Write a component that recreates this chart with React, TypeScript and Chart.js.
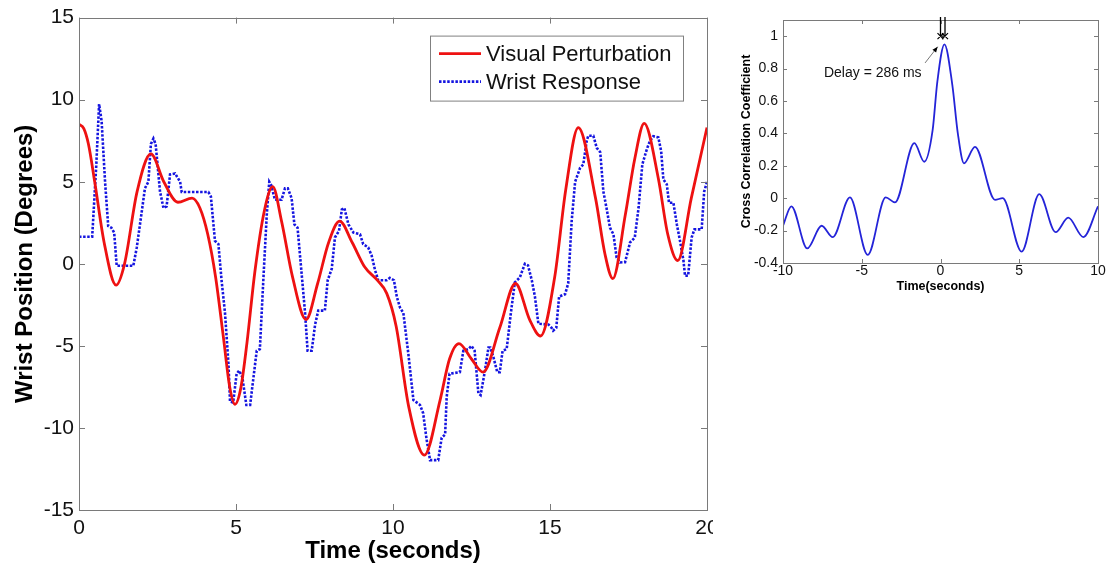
import React, { useEffect, useRef } from 'react';
import { Chart, registerables } from 'chart.js';
Chart.register(...registerables);

const FONT = '"Liberation Sans", Arial, Helvetica, sans-serif';

// ---------- main chart data ----------
const X_TICKS = [0, 5, 10, 15, 20];
const Y_TICKS = [-15, -10, -5, 0, 5, 10, 15];

const VP_LABEL = 'Visual Perturbation';
const VP_T = [0, 0.15, 0.3, 0.5, 0.8, 1.18, 1.45, 1.85, 2.29, 2.7, 3.15, 3.6, 3.85, 4.1, 4.35, 4.6, 4.8, 4.97, 5.15, 5.35, 5.6, 5.9, 6.17, 6.45, 6.8, 7.23, 7.6, 7.95, 8.3, 8.7, 9.1, 9.5, 9.8, 10.1, 10.5, 11.0, 11.5, 11.8, 12.1, 12.5, 12.87, 13.4, 13.9, 14.35, 14.7, 15.15, 15.5, 15.9, 16.45, 16.75, 17.0, 17.4, 17.7, 18.0, 18.45, 18.75, 19.07, 19.5, 20];
const VP_V = [8.5, 8.25, 7.3, 5.0, 1.3, -1.3, 0.0, 4.4, 6.7, 5.0, 3.75, 4.0, 3.4, 1.8, -0.8, -4.5, -7.5, -8.56, -7.6, -4.8, -0.5, 3.2, 4.7, 2.6, -0.8, -3.4, -1.2, 1.3, 2.6, 1.3, -0.2, -1.0, -1.8, -3.8, -8.7, -11.66, -8.3, -5.8, -4.86, -5.8, -6.6, -3.9, -1.2, -3.4, -4.4, -0.8, 4.5, 8.3, 4.0, 0.6, -0.9, 3.0, 6.4, 8.56, 5.2, 1.8, 0.2, 4.0, 8.3];

const WR_LABEL = 'Wrist Response';
const WR_T = [0, 0.42, 0.55, 0.64, 0.72, 0.83, 0.93, 1.03, 1.12, 1.2, 1.73, 1.84, 2.0, 2.1, 2.21, 2.29, 2.37, 2.44, 2.58, 2.69, 2.79, 2.9, 3.06, 3.22, 3.27, 4.12, 4.2, 4.33, 4.44, 4.54, 4.65, 4.76, 4.81, 4.91, 5.02, 5.1, 5.2, 5.33, 5.45, 5.66, 5.76, 5.87, 5.98, 6.06, 6.12, 6.24, 6.45, 6.56, 6.65, 6.77, 6.86, 6.96, 7.09, 7.2, 7.28, 7.41, 7.52, 7.62, 7.83, 7.92, 8.05, 8.15, 8.28, 8.37, 8.45, 8.58, 8.74, 8.95, 9.05, 9.21, 9.32, 9.43, 9.53, 9.8, 9.9, 10.03, 10.12, 10.22, 10.33, 10.49, 10.65, 10.86, 10.96, 11.07, 11.18, 11.44, 11.55, 11.66, 11.71, 11.8, 12.13, 12.24, 12.4, 12.5, 12.6, 12.72, 12.79, 12.93, 13.04, 13.1, 13.2, 13.32, 13.4, 13.49, 13.62, 13.75, 13.88, 14.04, 14.2, 14.3, 14.42, 14.52, 14.63, 14.95, 15.05, 15.1, 15.2, 15.29, 15.48, 15.58, 15.69, 15.8, 15.96, 16.06, 16.17, 16.22, 16.38, 16.49, 16.6, 16.7, 16.8, 16.91, 17.02, 17.12, 17.23, 17.39, 17.55, 17.7, 17.82, 17.94, 18.08, 18.18, 18.29, 18.45, 18.54, 18.61, 18.72, 18.79, 18.93, 19.04, 19.14, 19.25, 19.3, 19.4, 19.51, 19.6, 19.83, 19.91, 20];
const WR_V = [1.65, 1.65, 6.0, 9.73, 8.7, 5.0, 2.3, 2.2, 1.9, -0.12, -0.12, 1.0, 3.2, 4.6, 5.0, 7.3, 7.63, 7.3, 4.4, 3.4, 3.5, 5.45, 5.5, 5.0, 4.37, 4.37, 4.1, 1.4, 1.2, -1.0, -3.0, -6.1, -8.4, -8.45, -6.7, -6.5, -6.9, -8.6, -8.6, -5.3, -5.2, -1.0, 3.0, 5.0, 4.8, 3.9, 3.9, 4.6, 4.6, 4.0, 2.4, 2.2, -0.6, -3.0, -5.3, -5.3, -3.7, -2.85, -2.85, -1.0, -0.3, 1.6, 2.0, 3.3, 3.4, 2.4, 1.9, 1.8, 1.2, 1.0, 0.5, -0.4, -1.0, -1.0, -0.86, -1.0, -2.0, -2.65, -3.0, -5.5, -8.3, -8.6, -9.1, -10.7, -11.96, -11.96, -10.6, -10.4, -8.1, -6.7, -6.6, -5.3, -5.2, -5.0, -5.3, -7.9, -8.0, -6.5, -5.1, -5.1, -5.7, -6.6, -6.6, -5.3, -5.2, -3.06, -1.13, -0.83, 0.0, -0.1, -1.0, -2.0, -3.65, -3.7, -3.9, -4.07, -3.9, -2.0, -1.85, -1.2, 2.6, 5.0, 5.85, 6.05, 7.5, 7.8, 7.8, 7.06, 6.8, 4.4, 3.4, 2.2, 1.8, 0.4, 0.08, 0.1, 1.3, 1.6, 3.4, 6.05, 6.96, 7.47, 7.77, 7.7, 6.86, 5.14, 4.84, 3.72, 3.72, 2.4, 1.4, 0.2, -0.73, -0.73, 1.6, 2.1, 2.1, 4.4, 5.0];

// ---------- cross-correlation data ----------
const CC_X_TICKS = [-10, -5, 0, 5, 10];
const CC_Y_TICKS = [-0.4, -0.2, 0, 0.2, 0.4, 0.6, 0.8, 1];
const CC_T = [-10, -9.47, -8.46, -7.55, -6.84, -5.75, -4.62, -3.48, -2.89, -1.66, -1.03, -0.5, -0.2, 0.25, 0.75, 1.1, 1.49, 2.19, 3.46, 3.95, 5.15, 6.27, 7.31, 8.11, 9.07, 10];
const CC_V = [-0.17, -0.05, -0.31, -0.17, -0.24, 0.005, -0.35, 0.005, -0.026, 0.34, 0.225, 0.42, 0.72, 0.95, 0.7, 0.4, 0.215, 0.317, -0.01, 0.0, -0.33, 0.025, -0.21, -0.12, -0.24, -0.05];
const DELAY_S = 0.286;
const DELAY_LABEL = 'Delay = 286 ms';
const DELAY_TEXT_AT = [-7.4, 0.77];
const DELAY_ARROW_FROM = [-0.98, 0.835];
const DELAY_ARROW_TO = [-0.18, 0.935];

const pts = (t: number[], v: number[]) => t.map((x, i) => ({ x, y: v[i] }));

const framePlugin = (color: string, len: number) => ({
  id: 'frame',
  afterDatasetsDraw(chart: any) {
    const { ctx, chartArea: a, scales } = chart;
    ctx.save();
    ctx.strokeStyle = color;
    ctx.lineWidth = 1;
    ctx.strokeRect(Math.round(a.left) + 0.5, Math.round(a.top) + 0.5, Math.round(a.right - a.left), Math.round(a.bottom - a.top));
    ctx.beginPath();
    scales.x.ticks.forEach((t: any) => {
      const px = Math.round(scales.x.getPixelForValue(t.value)) + 0.5;
      ctx.moveTo(px, a.bottom); ctx.lineTo(px, a.bottom - len);
      ctx.moveTo(px, a.top); ctx.lineTo(px, a.top + len);
    });
    scales.y.ticks.forEach((t: any) => {
      const py = Math.round(scales.y.getPixelForValue(t.value)) + 0.5;
      ctx.moveTo(a.left, py); ctx.lineTo(a.left + len, py);
      ctx.moveTo(a.right, py); ctx.lineTo(a.right - len, py);
    });
    ctx.stroke();
    ctx.restore();
  },
});

const legendPlugin = {
  id: 'boxLegend',
  afterDraw(chart: any) {
    const { ctx, chartArea: a } = chart;
    const right = a.right - 24, top = a.top + 18, w = 253, h = 65;
    const left = right - w;
    ctx.save();
    ctx.fillStyle = '#fff';
    ctx.fillRect(left, top, w, h);
    ctx.strokeStyle = '#808080';
    ctx.lineWidth = 1;
    ctx.strokeRect(left + 0.5, top + 0.5, w, h);
    chart.data.datasets.forEach((ds: any, i: number) => {
      const cy = top + 18 + i * 28;
      ctx.strokeStyle = ds.borderColor;
      ctx.lineWidth = ds.borderWidth;
      ctx.setLineDash(ds.borderDash || []);
      ctx.beginPath();
      ctx.moveTo(left + 9, cy); ctx.lineTo(left + 51, cy);
      ctx.stroke();
      ctx.setLineDash([]);
      ctx.fillStyle = '#111';
      ctx.font = `22px ${FONT}`;
      ctx.textBaseline = 'middle';
      ctx.textAlign = 'left';
      ctx.fillText(ds.label, left + 56, cy + 1);
    });
    ctx.restore();
  },
};

const delayPlugin = {
  id: 'delay',
  afterDraw(chart: any) {
    const { ctx, chartArea: a, scales: { x, y } } = chart;
    const x0 = x.getPixelForValue(0), x1 = x.getPixelForValue(DELAY_S), y1 = y.getPixelForValue(1);
    ctx.save();
    ctx.strokeStyle = '#000';
    ctx.lineWidth = 1.3;
    ctx.beginPath();
    [x0, x1].forEach((px: number) => { ctx.moveTo(px, y1); ctx.lineTo(px, a.top - 3); });
    ctx.moveTo(x0, y1); ctx.lineTo(x1, y1);
    ctx.stroke();
    ctx.lineWidth = 1.2;
    ctx.beginPath();
    [x0, x1].forEach((px: number) => {
      ctx.moveTo(px - 3, y1 - 3); ctx.lineTo(px + 3, y1 + 3);
      ctx.moveTo(px - 3, y1 + 3); ctx.lineTo(px + 3, y1 - 3);
    });
    ctx.stroke();
    ctx.fillStyle = '#111';
    ctx.font = `14px ${FONT}`;
    ctx.textBaseline = 'middle';
    ctx.textAlign = 'left';
    ctx.fillText(DELAY_LABEL, x.getPixelForValue(DELAY_TEXT_AT[0]), y.getPixelForValue(DELAY_TEXT_AT[1]));
    const fx = x.getPixelForValue(DELAY_ARROW_FROM[0]), fy = y.getPixelForValue(DELAY_ARROW_FROM[1]);
    const tx = x.getPixelForValue(DELAY_ARROW_TO[0]), ty = y.getPixelForValue(DELAY_ARROW_TO[1]);
    ctx.strokeStyle = '#777';
    ctx.lineWidth = 1;
    ctx.beginPath(); ctx.moveTo(fx, fy); ctx.lineTo(tx, ty); ctx.stroke();
    const ang = Math.atan2(ty - fy, tx - fx);
    ctx.fillStyle = '#000';
    ctx.beginPath();
    ctx.moveTo(tx, ty);
    ctx.lineTo(tx - 6 * Math.cos(ang - 0.4), ty - 6 * Math.sin(ang - 0.4));
    ctx.lineTo(tx - 6 * Math.cos(ang + 0.4), ty - 6 * Math.sin(ang + 0.4));
    ctx.closePath();
    ctx.fill();
    ctx.restore();
  },
};

export default function App() {
  const mainRef = useRef<HTMLCanvasElement>(null);
  const ccRef = useRef<HTMLCanvasElement>(null);

  useEffect(() => {
    const main = new Chart(mainRef.current!, {
      type: 'line',
      data: {
        datasets: [
          { label: VP_LABEL, data: pts(VP_T, VP_V), borderColor: '#ee1111', borderWidth: 2.8, pointRadius: 0, cubicInterpolationMode: 'monotone', fill: false },
          { label: WR_LABEL, data: pts(WR_T, WR_V), borderColor: '#1515e0', borderWidth: 2.6, borderDash: [2.5, 1.6], pointRadius: 0, tension: 0, fill: false },
        ],
      },
      options: {
        responsive: false,
        animation: false,
        layout: { padding: { top: 16, right: 33, left: 0, bottom: 0 } },
        plugins: { legend: { display: false }, tooltip: { enabled: false } },
        scales: {
          x: {
            type: 'linear', min: 0, max: 20,
            afterBuildTicks: (s: any) => { s.ticks = X_TICKS.map((value) => ({ value })); },
            afterFit: (s: any) => { s.height = 57; },
            grid: { display: false, drawTicks: false },
            border: { display: false },
            ticks: { font: { family: FONT, size: 21 }, color: '#111', padding: 6, maxRotation: 0, autoSkip: false },
            title: { display: true, text: 'Time (seconds)', font: { family: FONT, size: 24, weight: 'bold' }, color: '#000', padding: { top: 0, bottom: 1 } },
          },
          y: {
            type: 'linear', min: -15, max: 15,
            afterBuildTicks: (s: any) => { s.ticks = Y_TICKS.map((value) => ({ value })); },
            afterFit: (s: any) => { s.width = 79; },
            grid: { display: false, drawTicks: false },
            border: { display: false },
            ticks: { font: { family: FONT, size: 21 }, color: '#111', padding: 5, autoSkip: false },
            title: { display: true, text: 'Wrist Position (Degrees)', font: { family: FONT, size: 24, weight: 'bold' }, color: '#000', padding: { top: 11, bottom: 0 } },
          },
        },
      } as any,
      plugins: [framePlugin('#7a7a7a', 6), legendPlugin],
    });

    const cc = new Chart(ccRef.current!, {
      type: 'line',
      data: {
        datasets: [
          { label: 'Cross Correlation', data: pts(CC_T, CC_V), borderColor: '#2424d8', borderWidth: 1.8, pointRadius: 0, cubicInterpolationMode: 'monotone', fill: false },
        ],
      },
      options: {
        responsive: false,
        animation: false,
        layout: { padding: { top: 20, right: 11, left: 0, bottom: 0 } },
        plugins: { legend: { display: false }, tooltip: { enabled: false } },
        scales: {
          x: {
            type: 'linear', min: -10, max: 10,
            afterBuildTicks: (s: any) => { s.ticks = CC_X_TICKS.map((value) => ({ value })); },
            afterFit: (s: any) => { s.height = 37; },
            grid: { display: false, drawTicks: false },
            border: { display: false },
            ticks: { font: { family: FONT, size: 14 }, color: '#111', padding: 0, maxRotation: 0, autoSkip: false },
            title: { display: true, text: 'Time(seconds)', font: { family: FONT, size: 12.5, weight: 'bold' }, color: '#000', padding: { top: 0, bottom: 5.5 } },
          },
          y: {
            type: 'linear', min: -0.4, max: 1.1,
            afterBuildTicks: (s: any) => { s.ticks = CC_Y_TICKS.map((value) => ({ value })); },
            afterFit: (s: any) => { s.width = 63; },
            grid: { display: false, drawTicks: false },
            border: { display: false },
            ticks: { font: { family: FONT, size: 14 }, color: '#111', padding: 5, autoSkip: false, callback: (v: any) => String(Math.round(v * 10) / 10) },
            title: { display: true, text: 'Cross Correlation Coefficient', font: { family: FONT, size: 12.5, weight: 'bold' }, color: '#000', padding: { top: 19, bottom: 0 } },
          },
        },
      } as any,
      plugins: [framePlugin('#7a7a7a', 4), delayPlugin],
    });

    return () => { main.destroy(); cc.destroy(); };
  }, []);

  return (
    <div style={{ position: 'absolute', left: 0, top: 0, width: 1109, height: 567, background: '#fff', overflow: 'hidden' }}>
      <div style={{ position: 'absolute', left: 0, top: 0, width: 713, height: 567, overflow: 'hidden' }}>
        <canvas ref={mainRef} width={740} height={567} style={{ display: 'block' }} />
      </div>
      <canvas ref={ccRef} width={389} height={300} style={{ position: 'absolute', left: 720, top: 0, display: 'block' }} />
    </div>
  );
}
